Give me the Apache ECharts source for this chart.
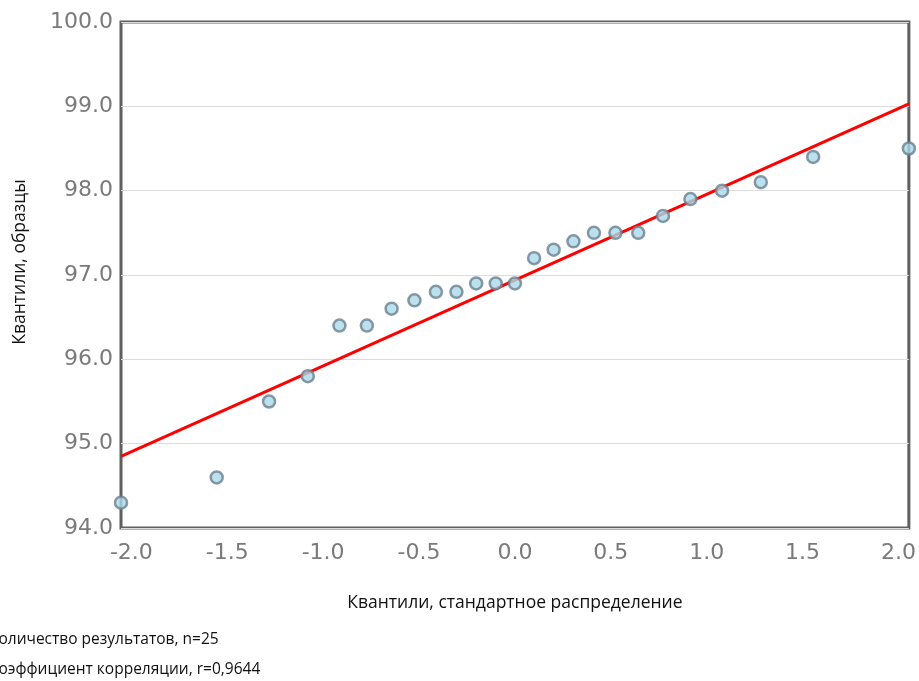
<!DOCTYPE html>
<html>
<head>
<meta charset="utf-8">
<script src="https://cdn.jsdelivr.net/npm/echarts@6/dist/echarts.min.js"></script>
<style>
  html, body { margin: 0; padding: 0; background: #ffffff; }
  #chart { width: 919px; height: 681px; }
</style>
</head>
<body>
<div id="chart"></div>
<script>
// Theoretical quantiles of the standard normal distribution (x)
const theoreticalQuantiles = [-2.054, -1.555, -1.282, -1.080, -0.915, -0.772, -0.643, -0.524, -0.412, -0.305, -0.202, -0.100, 0.000,
  0.100, 0.202, 0.305, 0.412, 0.524, 0.643, 0.772, 0.915, 1.080, 1.282, 1.555, 2.054];
// Sample quantiles (y)
const sampleQuantiles = [94.3, 94.6, 95.5, 95.8, 96.4, 96.4, 96.6, 96.7, 96.8, 96.8, 96.9, 96.9, 96.9,
  97.2, 97.3, 97.4, 97.5, 97.5, 97.5, 97.7, 97.9, 98.0, 98.1, 98.4, 98.5];
// Fitted line end points
const fitLineX = [-2.054, 2.054];
const fitLineY = [94.85, 99.03];
// Tick values
const xTicks = [-2.0, -1.5, -1.0, -0.5, 0.0, 0.5, 1.0, 1.5, 2.0];
const yTicks = [94, 95, 96, 97, 98, 99, 100];
// Texts
const xTitle = 'Квантили, стандартное распределение';
const yTitle = 'Квантили, образцы';
const noteLines = ['Количество результатов, n=25', 'Коэффициент корреляции, r=0,9644'];

const chart = echarts.init(document.getElementById('chart'), null, { renderer: 'canvas' });

const labelFont = { color: '#7a7a7a', fontSize: 22, fontFamily: 'DejaVu Sans' };

const option = {
  animation: false,
  backgroundColor: '#ffffff',
  grid: {
    left: 121, right: 10, top: 22, bottom: 153,
    show: true, borderColor: '#5f5f5f', borderWidth: 3, backgroundColor: '#ffffff'
  },
  xAxis: {
    type: 'value',
    min: fitLineX[0],
    max: fitLineX[1],
    name: xTitle,
    nameLocation: 'middle',
    nameGap: 66,
    nameTextStyle: { color: '#111', fontSize: 17.5, fontFamily: 'Open Sans' },
    axisLine: { show: false },
    axisTick: { show: false },
    splitLine: { show: false },
    axisLabel: Object.assign({
      customValues: xTicks,
      margin: 14,
      formatter: v => Number(v).toFixed(1)
    }, labelFont)
  },
  yAxis: {
    type: 'value',
    min: yTicks[0],
    max: yTicks[yTicks.length - 1],
    interval: 1,
    axisLine: { show: false },
    axisTick: { show: false },
    splitLine: { show: true, lineStyle: { color: '#dddddd', width: 1 } },
    axisLabel: Object.assign({
      margin: 8,
      formatter: v => Number(v).toFixed(1)
    }, labelFont)
  },
  graphic: [
    {
      type: 'text', x: 20, y: 262, rotation: Math.PI / 2,
      style: { text: yTitle, fill: '#111', font: '17.5px "Open Sans"', align: 'center', verticalAlign: 'middle' }
    },
    {
      type: 'text', left: -11, top: 632,
      style: { text: noteLines[0], fill: '#111', font: '15.5px "Open Sans"' }
    },
    {
      type: 'text', left: -11, top: 662,
      style: { text: noteLines[1], fill: '#111', font: '15.5px "Open Sans"' }
    }
  ],
  series: [
    {
      type: 'line',
      data: fitLineX.map((x, i) => [x, fitLineY[i]]),
      symbol: 'none',
      lineStyle: { color: '#ff0000', width: 3 },
      z: 2
    },
    {
      type: 'scatter',
      data: theoreticalQuantiles.map((x, i) => [x, sampleQuantiles[i]]),
      symbol: 'circle',
      symbolSize: 12,
      itemStyle: { color: '#a9d9e8', borderColor: '#6b7f8e', borderWidth: 2.5 },
      clip: false,
      z: 3
    }
  ]
};
chart.setOption(option);
</script>
</body>
</html>
